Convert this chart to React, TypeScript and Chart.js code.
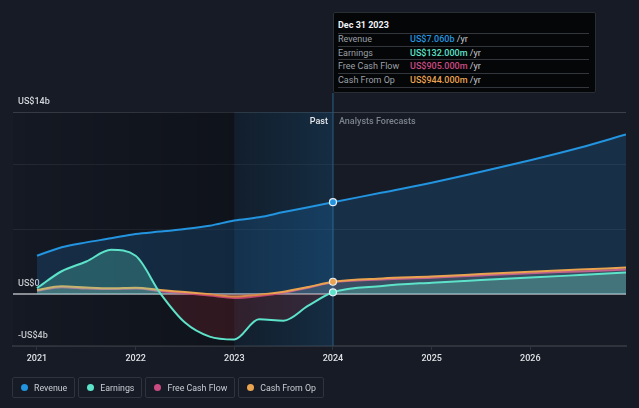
import React, { useEffect, useRef } from 'react';
import { Chart, registerables } from 'chart.js';

Chart.register(...registerables);

// ---- data (values in US$ billions, x in decimal years) ----
const X_YEARS = [2021.0, 2021.25, 2021.5, 2021.75, 2022.0, 2022.25, 2022.5, 2022.75, 2023.0, 2023.25, 2023.5, 2023.75, 2024.0, 2024.5, 2025.0, 2025.5, 2026.0, 2026.5, 2026.97];
const REVENUE = [2.94, 3.6, 3.97, 4.28, 4.62, 4.8, 5.0, 5.25, 5.65, 5.9, 6.3, 6.67, 7.06, 7.8, 8.56, 9.4, 10.29, 11.25, 12.27];
const EARNINGS = [0.45, 1.75, 2.5, 3.4, 2.94, 0.05, -2.2, -3.28, -3.5, -1.95, -2.05, -0.9, 0.132, 0.62, 0.87, 1.07, 1.26, 1.46, 1.65];
const FREE_CASH_FLOW = [0.25, 0.52, 0.42, 0.38, 0.42, 0.22, 0.05, -0.12, -0.3, -0.15, 0.1, 0.48, 0.905, 1.12, 1.25, 1.43, 1.6, 1.74, 1.88];
const CASH_FROM_OP = [0.31, 0.6, 0.5, 0.44, 0.49, 0.31, 0.15, -0.02, -0.2, -0.05, 0.18, 0.54, 0.944, 1.2, 1.34, 1.53, 1.72, 1.88, 2.03];

const SERIES_NAMES = ['Revenue', 'Earnings', 'Free Cash Flow', 'Cash From Op'];
const SERIES_COLORS = ['#2394df', '#5de3c9', '#c94b82', '#eaa34f'];
const TOOLTIP_DATE = 'Dec 31 2023';
const TOOLTIP_VALUES = ['US$7.060b', 'US$132.000m', 'US$905.000m', 'US$944.000m'];

const X_TICKS = [2021, 2022, 2023, 2024, 2025, 2026];
const Y_TICKS = [-4, 0, 5, 10, 14];
const Y_LABELS: Record<string, string> = { '14': 'US$14b', '0': 'US$0', '-4': '-US$4b' };
const X_MIN = 2020.757;
const X_MAX = 2026.97;
const Y_MIN = -4;
const Y_MAX = 14;
const HIGHLIGHT_START = 2023.0;
const NOW = 2024.0;

const FONT = 'Roboto, "Noto Sans", sans-serif';

const bgPlugin = {
  id: 'bgPlugin',
  beforeDatasetsDraw(chart: any) {
    const { ctx, chartArea: a, scales } = chart;
    const x = scales.x;
    const y = scales.y;
    const xs = x.getPixelForValue(HIGHLIGHT_START);
    const xn = x.getPixelForValue(NOW);
    ctx.save();
    let g = ctx.createLinearGradient(a.left, 0, xs, 0);
    g.addColorStop(0, 'rgba(0,0,0,0.06)');
    g.addColorStop(1, 'rgba(0,0,0,0.3)');
    ctx.fillStyle = g;
    ctx.fillRect(a.left, a.top, xs - a.left, a.bottom - a.top);
    g = ctx.createLinearGradient(xs, 0, xn, 0);
    g.addColorStop(0, 'rgba(10,40,60,0.3)');
    g.addColorStop(1, 'rgba(20,75,115,0.38)');
    ctx.fillStyle = g;
    ctx.fillRect(xs, a.top, xn - xs, a.bottom - a.top);

    // zero line
    const y0 = y.getPixelForValue(0);
    ctx.strokeStyle = '#8a8d93';
    ctx.lineWidth = 2;
    ctx.beginPath();
    ctx.moveTo(a.left, y0);
    ctx.lineTo(a.right, y0);
    ctx.stroke();

    // "now" vertical line
    ctx.strokeStyle = 'rgba(40,85,120,0.8)';
    ctx.lineWidth = 1.5;
    ctx.beginPath();
    ctx.moveTo(xn, 93);
    ctx.lineTo(xn, a.bottom);
    ctx.stroke();

    // labels
    ctx.font = `500 9px ${FONT}`;
    ctx.textBaseline = 'middle';
    ctx.textAlign = 'right';
    ctx.fillStyle = '#e6e8eb';
    ctx.fillText('Past', xn - 5, a.top + 10);
    ctx.textAlign = 'left';
    ctx.fillStyle = '#7d838c';
    ctx.fillText('Analysts Forecasts', xn + 6, a.top + 10);
    ctx.restore();
  },
};

function pts(values: number[]) {
  return X_YEARS.map((x, i) => ({ x, y: values[i] }));
}

const radiusAtNow = (ctx: any) => (ctx.raw && ctx.raw.x === NOW ? 3.5 : 0);

export default function App() {
  const canvasRef = useRef<HTMLCanvasElement | null>(null);

  useEffect(() => {
    document.body.style.margin = '0';
    document.body.style.background = '#161b26';
    const canvas = canvasRef.current;
    if (!canvas) return;
    const common = {
      borderWidth: 2,
      pointRadius: radiusAtNow,
      pointHoverRadius: radiusAtNow,
      pointBorderColor: '#e8eef5',
      pointBorderWidth: 1.2,
      cubicInterpolationMode: 'monotone' as const,
    };
    const chart = new Chart(canvas, {
      type: 'line',
      data: {
        datasets: [
          {
            ...common,
            label: SERIES_NAMES[0],
            order: 4,
            data: pts(REVENUE),
            borderColor: SERIES_COLORS[0],
            pointBackgroundColor: SERIES_COLORS[0],
            backgroundColor: 'rgba(33,150,243,0.17)',
            fill: 'origin',
          },
          {
            ...common,
            label: SERIES_NAMES[1],
            order: 1,
            data: pts(EARNINGS),
            borderColor: SERIES_COLORS[1],
            pointBackgroundColor: SERIES_COLORS[1],
            fill: { target: 'origin', above: 'rgba(93,227,201,0.26)', below: 'rgba(160,40,50,0.22)' },
          },
          {
            ...common,
            label: SERIES_NAMES[2],
            order: 3,
            data: pts(FREE_CASH_FLOW),
            borderColor: SERIES_COLORS[2],
            pointBackgroundColor: SERIES_COLORS[2],
            pointRadius: 0,
            pointHoverRadius: 0,
            fill: false,
          },
          {
            ...common,
            label: SERIES_NAMES[3],
            order: 2,
            data: pts(CASH_FROM_OP),
            borderColor: SERIES_COLORS[3],
            pointBackgroundColor: SERIES_COLORS[3],
            fill: { target: 'origin', above: 'rgba(170,170,178,0.24)', below: 'rgba(170,170,178,0.24)' },
          },
        ],
      },
      options: {
        responsive: false,
        animation: false,
        events: [],
        layout: { padding: { left: 13, right: 13, top: 112, bottom: 32 } },
        plugins: { legend: { display: false }, tooltip: { enabled: false } },
        scales: {
          x: {
            type: 'linear',
            min: X_MIN,
            max: X_MAX,
            afterBuildTicks: (s: any) => {
              s.ticks = X_TICKS.map((v) => ({ value: v }));
            },
            afterFit: (s: any) => {
              s.height = 30;
            },
            grid: { drawOnChartArea: false, drawTicks: true, tickLength: 4, color: '#2e333c', lineWidth: 1 },
            border: { display: true, color: '#2e333c', width: 2 },
            ticks: {
              color: '#dfe1e4',
              font: { family: FONT, size: 9, weight: 500 },
              padding: 3,
              autoSkip: false,
              maxRotation: 0,
              callback: (v: any) => String(v),
            },
          },
          y: {
            type: 'linear',
            min: Y_MIN,
            max: Y_MAX,
            afterBuildTicks: (s: any) => {
              s.ticks = Y_TICKS.map((v) => ({ value: v }));
            },
            afterFit: (s: any) => {
              s.width = 0;
            },
            border: { display: false },
            grid: {
              drawTicks: false,
              color: (c: any) => {
                const v = c.tick && c.tick.value;
                if (v === 0) return 'rgba(0,0,0,0)';
                if (v === Y_MAX) return '#3a3f48';
                if (v === Y_MIN) return '#2e333c';
                return 'rgba(255,255,255,0.07)';
              },
              lineWidth: (c: any) => (c.tick && c.tick.value === Y_MIN ? 2 : 1),
            },
            ticks: {
              mirror: true,
              padding: 5,
              labelOffset: -10,
              autoSkip: false,
              color: '#d3d6da',
              font: { family: FONT, size: 9, weight: 500 },
              callback: (v: any) => Y_LABELS[String(v)] || '',
            },
          },
        },
      },
      plugins: [bgPlugin],
    } as any);
    return () => chart.destroy();
  }, []);

  const rowTops = [20, 33, 46, 60, 74];
  const textCenters = [26, 40, 53, 67];

  return (
    <div style={{ position: 'fixed', left: 0, top: 0, width: 639, height: 408, background: '#161b26', overflow: 'hidden', fontFamily: FONT }}>
      <canvas ref={canvasRef} width={639} height={408} style={{ position: 'absolute', left: 0, top: 0, width: 639, height: 408 }} />
      {/* tooltip */}
      <div style={{ position: 'absolute', left: 333, top: 12, width: 263, height: 81, background: '#050607', border: '1px solid #2a2e35', boxSizing: 'border-box', borderRadius: 2 }}>
        <div style={{ position: 'absolute', left: 4, top: 6, height: 12, lineHeight: '12px', fontSize: 9, fontWeight: 700, color: '#f2f3f5' }}>{TOOLTIP_DATE}</div>
        {rowTops.map((t, i) => (
          <div key={'l' + i} style={{ position: 'absolute', left: 4, right: 6, top: t, height: 1, background: '#33363c' }} />
        ))}
        {SERIES_NAMES.map((n, i) => (
          <React.Fragment key={n}>
            <div style={{ position: 'absolute', left: 4, top: textCenters[i] - 6, height: 12, lineHeight: '12px', fontSize: 9, color: '#9ba0a8' }}>{n}</div>
            <div style={{ position: 'absolute', left: 76, top: textCenters[i] - 6, height: 12, lineHeight: '12px', fontSize: 9, whiteSpace: 'nowrap' }}>
              <span style={{ color: SERIES_COLORS[i], fontWeight: 500 }}>{TOOLTIP_VALUES[i]}</span>
              <span style={{ color: '#c9ccd1' }}> /yr</span>
            </div>
          </React.Fragment>
        ))}
      </div>
      {/* legend */}
      <div style={{ position: 'absolute', left: 12, top: 377, display: 'flex', gap: 3 }}>
        {SERIES_NAMES.map((n, i) => (
          <div key={n} style={{ height: 21, boxSizing: 'border-box', border: '1px solid #2e333c', borderRadius: 2, display: 'flex', alignItems: 'center', padding: '0 7px 0 8px', fontSize: 8.8, color: '#c9cdd3' }}>
            <span style={{ width: 7, height: 7, borderRadius: '50%', background: SERIES_COLORS[i], marginRight: 6, display: 'inline-block' }} />
            <span>{n}</span>
          </div>
        ))}
      </div>
    </div>
  );
}
